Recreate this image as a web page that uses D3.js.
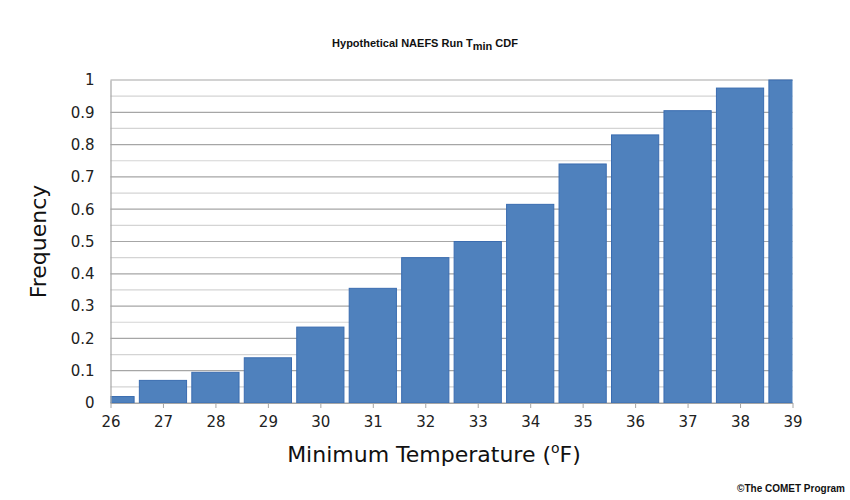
<!DOCTYPE html>
<html>
<head>
<style>
  body { margin: 0; background: #fff; }
</style>
</head>
<body>
<script src="https://cdn.jsdelivr.net/npm/d3@7"></script>
<script>
  // data
  var temps = [26, 27, 28, 29, 30, 31, 32, 33, 34, 35, 36, 37, 38, 39];
  var freqs = [0.02, 0.07, 0.095, 0.14, 0.235, 0.355, 0.45, 0.5, 0.615, 0.74, 0.83, 0.905, 0.975, 1.0];
  var yTicks = [0, 0.1, 0.2, 0.3, 0.4, 0.5, 0.6, 0.7, 0.8, 0.9, 1];

  var width = 850, height = 500;
  var pLeft = 110.5, pRight = 792.5, pTop = 80, pBottom = 403;
  var axisFont = "'DejaVu Sans', sans-serif";
  var titleFont = "'Liberation Sans', Arial, sans-serif";

  var svg = d3.select("body").append("svg").attr("width", width).attr("height", height);

  var x = d3.scaleLinear().domain([26, 39]).range([pLeft, pRight]);
  var y = d3.scaleLinear().domain([0, 1]).range([pBottom, pTop]);
  var step = x(27) - x(26);
  var barW = step * 0.9;

  // grid lines every 0.05, darker at 0.1
  d3.range(0, 21).forEach(function(i) {
    var v = i * 0.05;
    svg.append("line").attr("x1", pLeft).attr("x2", pRight)
      .attr("y1", y(v)).attr("y2", y(v))
      .attr("stroke", i % 2 == 0 ? "#a6a6a6" : "#d4d4d4").attr("stroke-width", 1.2);
  });

  svg.append("defs").append("clipPath").attr("id", "plot")
    .append("rect").attr("x", pLeft).attr("y", pTop - 2).attr("width", pRight - pLeft).attr("height", pBottom - pTop + 2);

  svg.append("g").attr("clip-path", "url(#plot)")
    .selectAll("rect").data(temps).enter().append("rect")
    .attr("x", function(d) { return x(d) - barW / 2; })
    .attr("y", function(d, i) { return y(freqs[i]); })
    .attr("width", barW)
    .attr("height", function(d, i) { return pBottom - y(freqs[i]); })
    .attr("fill", "#4f81bd").attr("stroke", "#3a6cb0").attr("stroke-width", 1);

  // y axis
  var yAxis = d3.axisLeft(y).tickValues(yTicks).tickFormat(d3.format("")).tickSize(0).tickPadding(16);
  var gy = svg.append("g").attr("transform", "translate(" + pLeft + ",0)").call(yAxis)
    .attr("font-family", axisFont).attr("font-size", 15);
  gy.select(".domain").attr("stroke", "#a6a6a6").attr("stroke-width", 1.2);
  gy.selectAll("text").attr("fill", "#222");

  // x axis
  var xAxis = d3.axisBottom(x).tickValues(temps).tickFormat(d3.format("d")).tickSize(5).tickSizeOuter(0).tickPadding(8);
  var gx = svg.append("g").attr("transform", "translate(0," + pBottom + ")").call(xAxis)
    .attr("font-family", axisFont).attr("font-size", 15);
  gx.select(".domain").attr("stroke", "#a6a6a6").attr("stroke-width", 1.2);
  gx.selectAll("line").attr("stroke", "#a6a6a6");
  gx.selectAll("text").attr("fill", "#222");

  // title
  var t = svg.append("text").attr("x", 425).attr("y", 47).attr("text-anchor", "middle")
    .attr("font-family", titleFont).attr("font-size", 11).attr("font-weight", "bold").attr("fill", "#111");
  t.append("tspan").text("Hypothetical NAEFS Run T");
  t.append("tspan").attr("dy", 3).text("min");
  t.append("tspan").attr("dy", -3).text(" CDF");

  // axis labels
  svg.append("text").attr("transform", "translate(46," + ((pTop + pBottom) / 2) + ") rotate(-90)")
    .attr("text-anchor", "middle").attr("font-size", 22).attr("fill", "#111")
    .attr("font-family", axisFont).text("Frequency");
  var xl = svg.append("text").attr("x", 434).attr("y", 462).attr("text-anchor", "middle")
    .attr("font-size", 22).attr("fill", "#111").attr("font-family", axisFont);
  xl.append("tspan").text("Minimum Temperature (");
  xl.append("tspan").attr("font-size", 14).attr("dy", -9).text("o");
  xl.append("tspan").attr("dy", 9).text("F)");

  svg.append("text").attr("x", 845).attr("y", 492).attr("text-anchor", "end")
    .attr("font-family", titleFont).attr("font-size", 10).attr("font-weight", "bold").attr("fill", "#111")
    .text("\u00a9The COMET Program");
</script>
</body>
</html>
